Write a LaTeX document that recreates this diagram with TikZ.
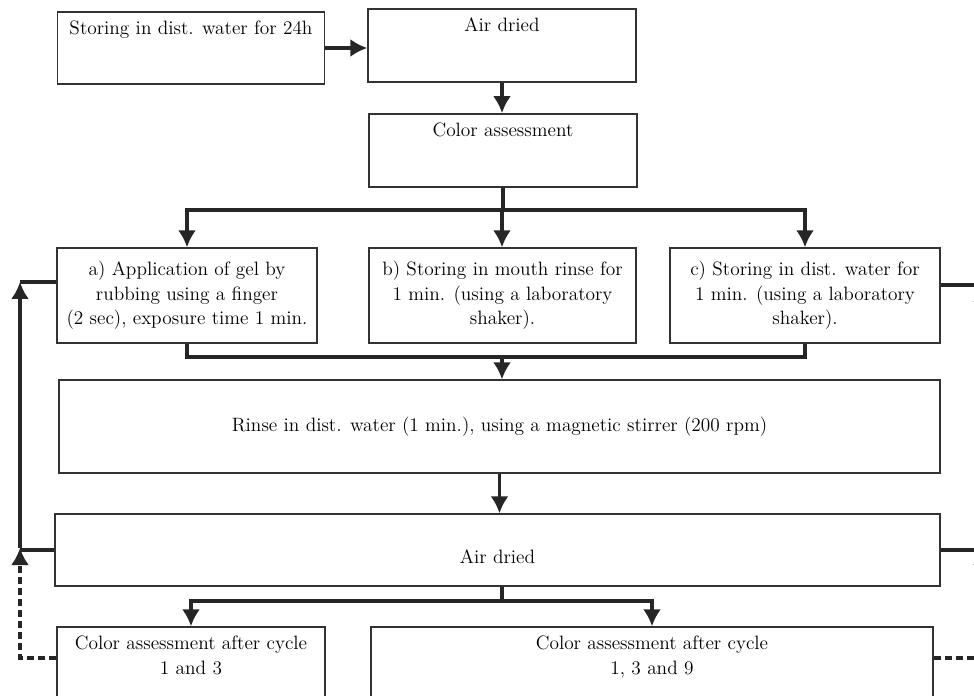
\documentclass[tikz,border=0pt]{standalone}
\usetikzlibrary{arrows.meta}
\begin{document}
\begin{tikzpicture}[>={Latex[length=3.4mm,width=3.6mm]},font=\fontsize{11}{14}\selectfont,
	topbox/.style={text height=0.3cm},
	dashline/.style={dash pattern=on 1.4mm off 0.8mm}]
	\useasboundingbox (0,0) rectangle (19.48,-13.92);
	\begin{scope}[every node/.style={draw=black!80,line width=0.75pt,align=center,inner xsep=2pt,inner ysep=0.16cm}]
		\node[topbox,minimum width=5.34cm,text depth=0.82cm] (soak) at (3.82,-0.96) {Storing in dist. water for 24h};
		\node[topbox,minimum width=5.36cm,text depth=0.84cm] (dryA) at (10.04,-0.91) {Air dried};
		\node[topbox,minimum width=5.36cm,text depth=0.84cm,line width=1pt] (colA) at (10.06,-3.01) {Color assessment};
		\node[minimum width=5.2cm,minimum height=1.9cm] (gel) at (3.74,-5.91) {a) Application of gel by\\rubbing using a finger\\(2 sec), exposure time 1 min.};
		\node[minimum width=5.34cm,minimum height=1.9cm] (mouth) at (10.05,-5.91) {b) Storing in mouth rinse for\\1 min. (using a laboratory\\shaker).};
		\node[minimum width=5.4cm,minimum height=1.9cm] (water) at (16.1,-5.91) {c) Storing in dist. water for\\1 min. (using a laboratory\\shaker).};
		\node[minimum width=17.62cm,minimum height=1.86cm] (rinse) at (9.99,-8.53) {Rinse in dist. water (1 min.), using a magnetic stirrer (200 rpm)};
		\node[minimum width=17.7cm,minimum height=1.44cm,text height=0.54cm,text depth=0pt] (dryB) at (9.95,-11.0) {Air dried};
		\node[minimum width=5.36cm,text height=0.79cm,text depth=0.75cm] (colB) at (3.82,-13.47) {Color assessment after cycle\\1 and 3};
		\node[minimum width=11.24cm,text height=0.79cm,text depth=0.75cm] (colC) at (13.04,-13.47) {Color assessment after cycle\\1, 3 and 9};
	\end{scope}
	
	\coordinate (splitA) at (10.04,-4.2);
	\coordinate (merge) at (10.04,-7.14);
	\coordinate (splitB) at (10.04,-12.02);
	\coordinate (backL) at (0.4,-10.96);
	\coordinate (topL) at (0.4,-5.64);
	\coordinate (lowL) at (0.4,-13.16);
	\coordinate (backR) at (19.64,-10.96);
	\coordinate (topR) at (19.64,-5.7);
	\coordinate (lowR) at (19.64,-13.16);
	
	\begin{scope}[draw=black!85,line width=1.8pt]
		\draw [->] (soak.east) -- (dryA.west |- soak.east);
		\draw [->] (dryA.south) -- (dryA.south |- colA.north);
		\draw (colA.south) -- (colA.south |- splitA);
		\draw [->] (splitA) -| (gel.north);
		\draw [->] (splitA) -- (splitA |- mouth.north);
		\draw [->] (splitA) -| (water.north);
		\draw (gel.south) |- (merge);
		\draw (water.south) |- (merge);
		\draw [->] (merge) -- (merge |- rinse.north);
		\draw [->] (rinse.south) -- (rinse.south |- dryB.north);
		\draw (splitB |- dryB.south) -- (splitB);
		\draw [->] (splitB) -| (colB.north);
		\draw [->] (splitB) -| (colC.north);
		
		% loops back on both sides
		\draw (dryB.west) -- (dryB.west -| backL);
		\draw [->] (backL) -- (topL);
		\draw (topL) -- (topL -| gel.west);
		\draw [->,dashline] (lowL -| colB.west) -- (lowL) -- (backL);
		\draw (dryB.east) -- (dryB.east -| backR);
		\draw [->] (backR) -- (topR);
		\draw (topR) -- (topR -| water.east);
		\draw [->,dashline] (lowR -| colC.east) -- (lowR) -- (backR);
	\end{scope}
\end{tikzpicture}
\end{document}
